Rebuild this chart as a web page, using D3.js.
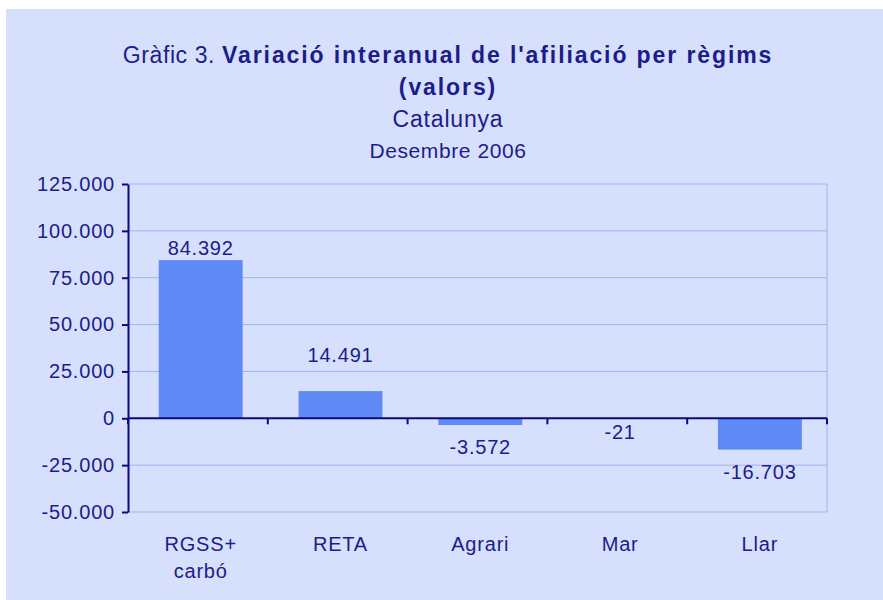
<!DOCTYPE html>
<html>
<head>
<meta charset="utf-8">
<script src="https://cdn.jsdelivr.net/npm/d3@7"></script>
<style>
  body { margin: 0; background: #fff; }
  text { font-family: "Liberation Sans", Arial, sans-serif; fill: #1c1c8c; }
</style>
</head>
<body>
<div id="chart"></div>
<script>
// chart data
var categories = ["RGSS+\ncarbó", "RETA", "Agrari", "Mar", "Llar"];
var values = [84392, 14491, -3572, -21, -16703];
var yTicks = [-50000, -25000, 0, 25000, 50000, 75000, 100000, 125000];

var W = 883, H = 600;
var margin = {top: 184, right: 56, bottom: 88, left: 128},
    width = W - margin.left - margin.right,
    height = H - margin.top - margin.bottom;

var locale = d3.formatLocale({decimal: ",", thousands: ".", grouping: [3], currency: ["", " €"], minus: "-"});
var fmt = locale.format(",d");

var svg = d3.select("#chart")
  .append("svg")
    .attr("width", W)
    .attr("height", H);

// background panel
svg.append("rect")
  .attr("x", 6).attr("y", 9)
  .attr("width", W - 6).attr("height", H - 9)
  .attr("fill", "#d6dffb");

// titles
var cx = 448;
var t1 = svg.append("text")
  .attr("x", cx).attr("y", 63)
  .attr("text-anchor", "middle")
  .style("font-size", "23px");
t1.append("tspan").style("letter-spacing", "0.6px").text("Gràfic 3. ");
t1.append("tspan")
  .style("font-weight", "bold")
  .style("letter-spacing", "1.9px")
  .text("Variació interanual de l'afiliació per règims");

svg.append("text")
  .attr("x", cx).attr("y", 95)
  .attr("text-anchor", "middle")
  .style("font-size", "23px")
  .style("font-weight", "bold")
  .style("letter-spacing", "1.9px")
  .text("(valors)");

svg.append("text")
  .attr("x", cx).attr("y", 127)
  .attr("text-anchor", "middle")
  .style("font-size", "23px")
  .style("letter-spacing", "0.8px")
  .text("Catalunya");

svg.append("text")
  .attr("x", cx).attr("y", 158)
  .attr("text-anchor", "middle")
  .style("font-size", "21px")
  .style("letter-spacing", "0.6px")
  .text("Desembre 2006");

var g = svg.append("g")
  .attr("transform", "translate(" + margin.left + "," + margin.top + ")");

var x = d3.scaleBand()
  .domain(categories)
  .range([0, width])
  .paddingInner(0.4)
  .paddingOuter(0.2)
  .align(0.55);

var y = d3.scaleLinear()
  .domain([-50000, 125000])
  .range([height, 0]);

// gridlines
g.selectAll(".grid")
  .data(yTicks.filter(function(d) { return d !== 0; }))
  .enter().append("line")
    .attr("x1", 0).attr("x2", width)
    .attr("y1", function(d) { return y(d); })
    .attr("y2", function(d) { return y(d); })
    .attr("stroke", "#9fb3f2")
    .attr("stroke-width", 1);

g.append("line")
  .attr("x1", width).attr("x2", width)
  .attr("y1", 0).attr("y2", height)
  .attr("stroke", "#9fb3f2");

// bars
g.selectAll(".bar")
  .data(values)
  .enter().append("rect")
    .attr("x", function(d, i) { return x(categories[i]); })
    .attr("y", function(d) { return y(Math.max(0, d)); })
    .attr("width", x.bandwidth())
    .attr("height", function(d) { return Math.abs(y(d) - y(0)); })
    .attr("fill", "#5f89f4");

// value labels (some labels sit off their bar in the original)
var labelNudge = [0, -24, 0, -8, 0];
g.selectAll(".val")
  .data(values)
  .enter().append("text")
    .attr("x", function(d, i) { return x(categories[i]) + x.bandwidth() / 2; })
    .attr("y", function(d, i) { return (d >= 0 ? y(d) - 5 : y(d) + 29) + labelNudge[i]; })
    .attr("text-anchor", "middle")
    .style("font-size", "20px")
    .style("letter-spacing", "0.8px")
    .text(function(d) { return fmt(d); });

// y axis
var yAxis = g.append("g")
  .call(d3.axisLeft(y).tickValues(yTicks).tickSize(6).tickSizeOuter(0).tickFormat(fmt));
yAxis.select(".domain").attr("stroke", "#0a0a82").attr("stroke-width", 2);
yAxis.selectAll(".tick line").attr("stroke", "#0a0a82").attr("stroke-width", 2);
yAxis.selectAll(".tick text")
  .attr("x", -13)
  .style("font-size", "20px")
  .style("letter-spacing", "0.8px")
  .style("font-family", "Liberation Sans, Arial, sans-serif")
  .attr("fill", "#1c1c8c");

// x axis line at zero with category boundary ticks
var zero = g.append("g").attr("transform", "translate(0," + y(0) + ")");
zero.append("line")
  .attr("x1", 0).attr("x2", width)
  .attr("stroke", "#0a0a82").attr("stroke-width", 2);
zero.selectAll(".xt")
  .data(d3.range(categories.length + 1))
  .enter().append("line")
    .attr("x1", function(i) { return i * width / categories.length; })
    .attr("x2", function(i) { return i * width / categories.length; })
    .attr("y1", 0).attr("y2", 6)
    .attr("stroke", "#0a0a82").attr("stroke-width", 2);

// category labels
var cl = g.selectAll(".cat")
  .data(categories)
  .enter().append("text")
    .attr("x", function(d) { return x(d) + x.bandwidth() / 2; })
    .attr("y", height + 39)
    .attr("text-anchor", "middle")
    .style("font-size", "20px")
    .style("letter-spacing", "0.8px");
cl.selectAll("tspan")
  .data(function(d) { return d.split("\n"); })
  .enter().append("tspan")
    .attr("x", function() { return d3.select(this.parentNode).attr("x"); })
    .attr("dy", function(d, i) { return i === 0 ? 0 : 27; })
    .text(function(d) { return d; });
</script>
</body>
</html>
